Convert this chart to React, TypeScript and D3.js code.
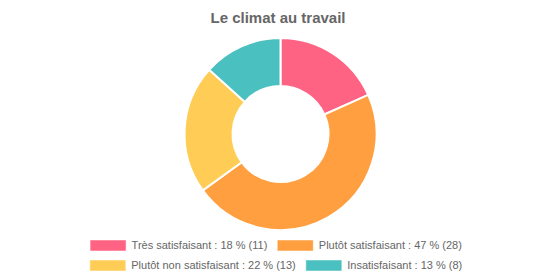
import React from "react";
import * as d3 from "d3";

const categories = ["Très satisfaisant", "Plutôt satisfaisant", "Plutôt non satisfaisant", "Insatisfaisant"];
const counts = [11, 28, 13, 8];
const percents = [18, 47, 22, 13];
const colors = ["#ff6384", "#ff9f40", "#ffcd56", "#4bc0c0"];
const title = "Le climat au travail";

const W = 560, H = 280;
const FONT = "Arial, 'Liberation Sans', sans-serif";

function measure(text: string, font: string): number {
  const c = document.createElement("canvas");
  const ctx = c.getContext("2d")!;
  ctx.font = font;
  return ctx.measureText(text).width;
}

export default function App() {
  const cx = 280.5, cy = 134, rOuter = 96, rInner = 48;
  const pie = d3.pie<number>().sort(null).value((d) => d)
    .startAngle(0).endAngle(2 * Math.PI);
  const arcs = pie(counts);
  const arc = d3.arc<d3.PieArcDatum<number>>().innerRadius(rInner).outerRadius(rOuter);

  const labels = categories.map((c, i) => `${c} : ${percents[i]} % (${counts[i]})`);
  const fs = 11;
  const legendFont = `${fs}px Arial`;
  const boxW = 36, boxH = 11, gap = 5.5, itemPad = 10;
  const rows = [[0, 1], [2, 3]];
  const rowY = [240, 260];
  const legendCenter = 276;

  const legendItems: React.ReactNode[] = [];
  rows.forEach((row, ri) => {
    const widths = row.map((i) => boxW + gap + measure(labels[i], legendFont));
    const total = widths.reduce((a, b) => a + b, 0) + itemPad * (row.length - 1);
    let x = legendCenter - total / 2;
    row.forEach((i, k) => {
      legendItems.push(
        <g key={i}>
          <rect x={x + 0.5} y={rowY[ri] + 0.5} width={boxW - 1} height={boxH - 1} fill={colors[i]} stroke={colors[i]} strokeOpacity={0.5} strokeWidth={1} />
          <text x={x + boxW + gap} y={rowY[ri] + boxH / 2} dy="0.35em" fontSize={fs} fill="#666" fontFamily={FONT}>{labels[i]}</text>
        </g>
      );
      x += widths[k] + itemPad;
    });
  });

  return (
    <svg width={W} height={H} style={{ position: "absolute", left: 0, top: 0 }}>
      <text x={278} y={22.5} textAnchor="middle" fontSize={15} fontWeight="bold" fill="#666" fontFamily={FONT}>{title}</text>
      <g transform={`translate(${cx},${cy})`}>
        {arcs.map((a, i) => (
          <path key={i} d={arc(a) || ""} fill={colors[i]} stroke="#fff" strokeWidth={2} />
        ))}
      </g>
      {legendItems}
    </svg>
  );
}
